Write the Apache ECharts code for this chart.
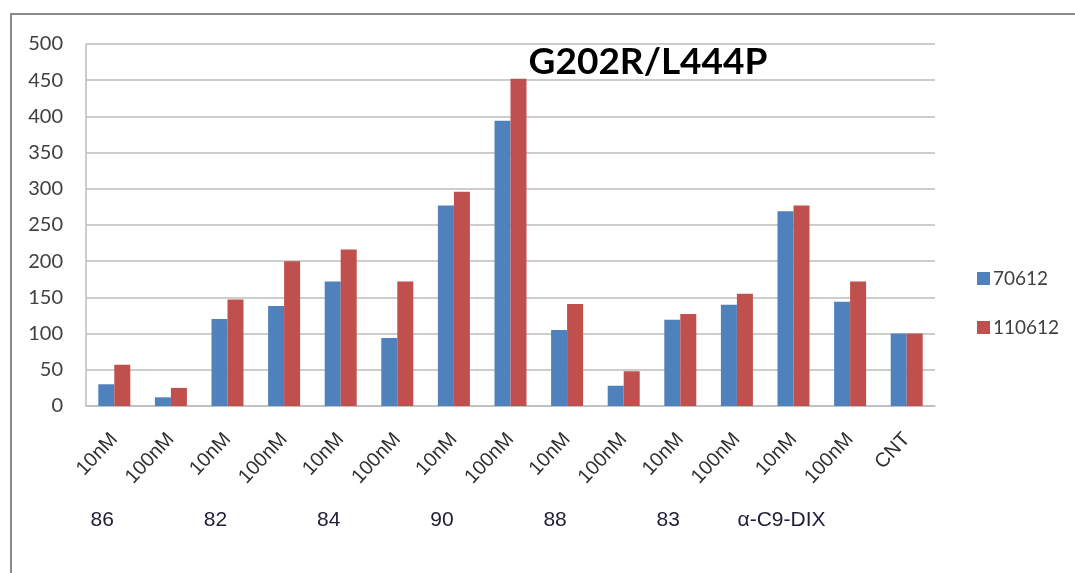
<!DOCTYPE html>
<html>
<head>
<meta charset="utf-8">
<script src="https://cdn.jsdelivr.net/npm/echarts@6/dist/echarts.min.js"></script>
<style>
  html, body { margin: 0; padding: 0; background: #ffffff; }
  #chart { width: 1075px; height: 573px; }
</style>
</head>
<body>
<div id="chart"></div>
<script>
// Concentration labels for each bar pair
const doseLabels = ['10nM', '100nM', '10nM', '100nM', '10nM', '100nM', '10nM', '100nM',
                    '10nM', '100nM', '10nM', '100nM', '10nM', '100nM', 'CNT'];
// Compound names written under their first dose
const compoundLabels = ['86', '', '82', '', '84', '', '90', '', '88', '', '83', '', 'α-C9-DIX', '', ''];
// Measurements for the two experiment dates
const series70612  = [30, 12, 120, 138, 172, 94, 277, 394, 105, 28, 119, 140, 269, 144, 100];
const series110612 = [57, 25, 147, 200, 216, 172, 296, 452, 141, 48, 127, 155, 277, 172, 100];
const yTicks = { min: 0, max: 500, interval: 50 };

const chart = echarts.init(document.getElementById('chart'), null, { renderer: 'canvas' });

const gridColor = '#bdbdbd';

chart.setOption({
  backgroundColor: '#ffffff',
  animation: false,
  title: {
    text: 'G202R/L444P',
    left: 643,
    top: 39,
    textAlign: 'center',
    textStyle: { fontFamily: 'Lato', fontWeight: 'bold', fontSize: 37, color: '#000000' }
  },
  legend: {
    orient: 'vertical',
    left: 972,
    top: 264,
    itemWidth: 13,
    itemHeight: 13,
    itemGap: 30,
    icon: 'rect',
    textStyle: { fontFamily: 'Lato', fontSize: 19, color: '#404040', padding: [0, 0, 0, -2] },
    data: ['70612', '110612']
  },
  grid: { left: 86, top: 44, right: 140, bottom: 167, containLabel: false },
  xAxis: [
    {
      type: 'category',
      data: doseLabels,
      axisLine: { show: true, lineStyle: { color: gridColor, width: 1.5 } },
      axisTick: { show: false },
      axisLabel: {
        interval: 0,
        rotate: 47,
        margin: 30,
        fontFamily: 'Liberation Sans',
        fontSize: 20,
        color: '#303030'
      }
    },
    {
      type: 'category',
      data: compoundLabels,
      position: 'bottom',
      axisLine: { show: false },
      axisTick: { show: false },
      splitLine: { show: false },
      axisLabel: {
        interval: 0,
        margin: 104,
        fontFamily: 'Liberation Sans',
        fontSize: 21,
        color: '#20203a',
        padding: [0, 24, 0, 0]
      }
    }
  ],
  yAxis: {
    type: 'value',
    min: yTicks.min,
    max: yTicks.max,
    interval: yTicks.interval,
    axisLine: { show: true, lineStyle: { color: gridColor, width: 1.5 } },
    axisTick: { show: false },
    splitLine: { show: true, lineStyle: { color: gridColor, width: 1.5 } },
    axisLabel: { margin: 23, fontFamily: 'Lato', fontSize: 20, color: '#404040' }
  },
  series: [
    {
      name: '70612',
      type: 'bar',
      data: series70612,
      barWidth: 16,
      barGap: '0%',
      itemStyle: { color: '#4f81bd' }
    },
    {
      name: '110612',
      type: 'bar',
      data: series110612,
      barWidth: 16,
      itemStyle: { color: '#c0504d' }
    }
  ],
  graphic: [
    {
      type: 'rect',
      shape: { x: 11, y: 14, width: 1200, height: 700 },
      style: { fill: 'none', stroke: '#8a8a8a', lineWidth: 2 },
      silent: true,
      z: -1
    }
  ]
});
</script>
</body>
</html>
